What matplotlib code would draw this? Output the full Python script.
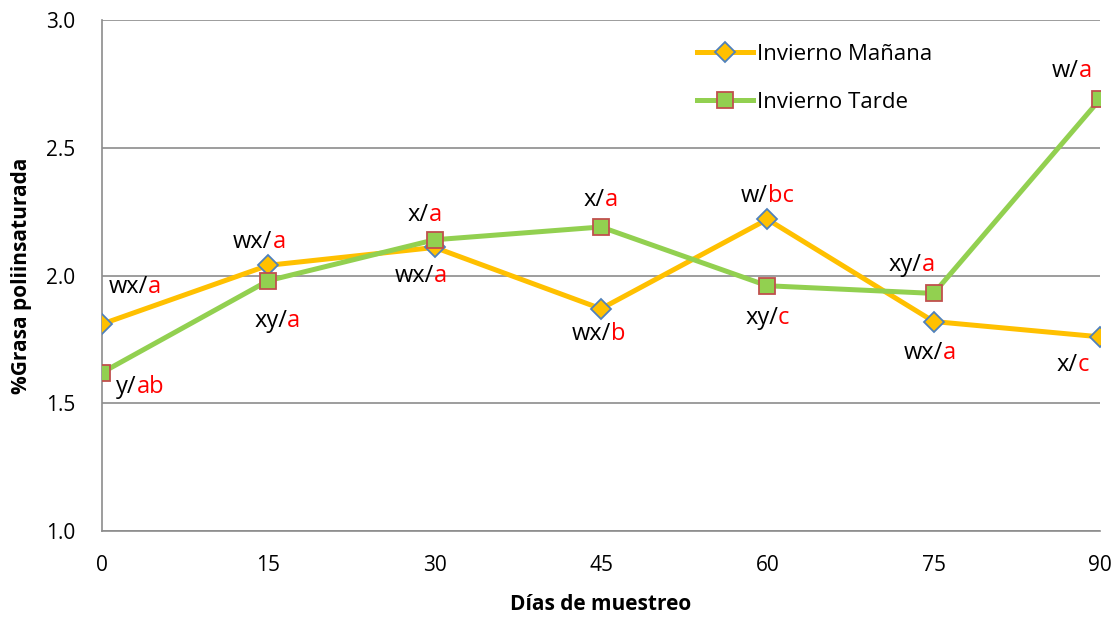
import matplotlib
matplotlib.use("Agg")
import matplotlib.pyplot as plt
from matplotlib.offsetbox import TextArea, HPacker, AnnotationBbox

# ---------- Data ----------
dias = [0, 15, 30, 45, 60, 75, 90]
manana = [1.81, 2.04, 2.11, 1.87, 2.22, 1.82, 1.76]
tarde = [1.62, 1.98, 2.14, 2.19, 1.96, 1.93, 2.69]

# label = (black part, red part)
lab_manana = [("wx/", "a"), ("wx/", "a"), ("wx/", "a"), ("wx/", "b"),
              ("w/", "bc"), ("wx/", "a"), ("x/", "c")]
lab_tarde = [("y/", "ab"), ("xy/", "a"), ("x/", "a"), ("x/", "a"),
             ("xy/", "c"), ("xy/", "a"), ("w/", "a")]

# pixel offsets of label centres from their points
off_manana = [(33, 37), (-9, 23), (-14, -29), (-2, -25), (0, 23), (-4, -31), (-27, -28)]
off_tarde = [(38, -14), (9, -40), (-10, 25), (0, 27), (0, -32), (-22, 28), (-28, 28)]

plt.rcParams['font.family'] = ['Open Sans', 'DejaVu Sans']

fig = plt.figure(figsize=(11.16, 6.2), dpi=100)
ax = fig.add_axes([0.0914, 0.1435, 0.8943, 0.8242])

ax.plot(dias, manana, color='#FFC000', lw=3.6, marker='D', markersize=10,
        markerfacecolor='#FFC000', markeredgecolor='#4F81BD', markeredgewidth=1.3,
        label='Invierno Mañana', zorder=3)
ax.plot(dias, tarde, color='#92D050', lw=3.6, marker='s', markersize=12,
        markerfacecolor='#92D050', markeredgecolor='#C0504D', markeredgewidth=1.3,
        label='Invierno Tarde', zorder=3)


def add_label(x, y, parts, off):
    black, red = parts
    ta1 = TextArea(black, textprops=dict(color='black', fontsize=17))
    ta2 = TextArea(red, textprops=dict(color='red', fontsize=17))
    box = HPacker(children=[ta1, ta2], align='baseline', pad=0, sep=0)
    ab = AnnotationBbox(box, (x, y), xybox=off, xycoords='data',
                        boxcoords='offset pixels', frameon=False, pad=0,
                        zorder=5, annotation_clip=False)
    ax.add_artist(ab)


for i in range(len(dias)):
    add_label(dias[i], manana[i], lab_manana[i], off_manana[i])
    add_label(dias[i], tarde[i], lab_tarde[i], off_tarde[i])

ax.set_xlim(0, 90)
ax.set_ylim(1.0, 3.0)
ax.set_xticks(dias)
ax.set_yticks([1.0, 1.5, 2.0, 2.5, 3.0])
ax.set_yticklabels(['1.0', '1.5', '2.0', '2.5', '3.0'])
ax.tick_params(labelsize=15, length=0)
ax.tick_params(axis='y', pad=19)
ax.tick_params(axis='x', pad=17)
ax.grid(axis='y', color='#8c8c8c', lw=1.2)
ax.set_axisbelow(True)
for s in ['top', 'right']:
    ax.spines[s].set_visible(False)
for s in ['left', 'bottom']:
    ax.spines[s].set_color('#8c8c8c')
    ax.spines[s].set_linewidth(1.2)
for lbl in ax.get_xticklabels() + ax.get_yticklabels():
    lbl.set_clip_on(False)

ax.set_xlabel('Días de muestreo', fontsize=15, fontweight='bold', labelpad=13)
ax.set_ylabel('%Grasa poliinsaturada', fontsize=15, fontweight='bold', labelpad=10)

ax.legend(loc='upper left', bbox_to_anchor=(0.585, 0.975), frameon=False,
          fontsize=16, handlelength=2.5, labelspacing=1.22, handletextpad=0.2,
          borderpad=0)

fig.savefig('out.png', dpi=100)
